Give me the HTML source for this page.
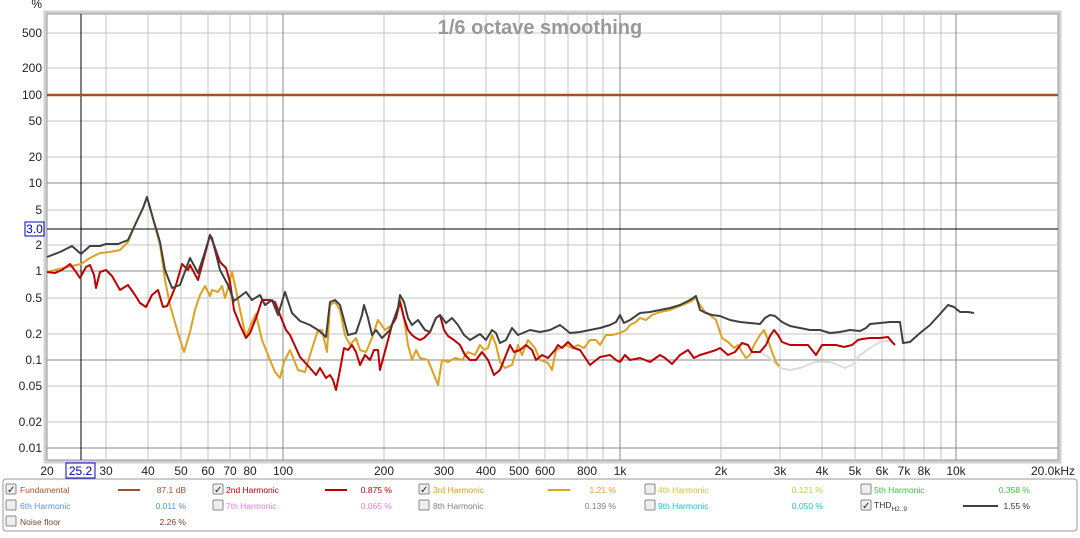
<!DOCTYPE html>
<html><head><style>
body{margin:0;background:#fff;width:1080px;height:533px;overflow:hidden;font-family:"Liberation Sans",sans-serif}
</style></head><body>
<svg width="1080" height="533" xmlns="http://www.w3.org/2000/svg" font-family="Liberation Sans, sans-serif">
<rect x="0" y="0" width="1080" height="533" fill="#fff"/>
<rect x="45" y="12" width="1015" height="450" fill="none" stroke="#d0d0d0" stroke-width="3"/>
<rect x="47" y="14" width="1011" height="446" fill="#fff" stroke="#999" stroke-width="1"/>
<g stroke="#c4c4c4" stroke-width="1">
<line x1="47" x2="1058" y1="33" y2="33"/><line x1="47" x2="1058" y1="68" y2="68"/><line x1="47" x2="1058" y1="121" y2="121"/><line x1="47" x2="1058" y1="157" y2="157"/><line x1="47" x2="1058" y1="210" y2="210"/><line x1="47" x2="1058" y1="245" y2="245"/><line x1="47" x2="1058" y1="298" y2="298"/><line x1="47" x2="1058" y1="334" y2="334"/><line x1="47" x2="1058" y1="386" y2="386"/><line x1="47" x2="1058" y1="422" y2="422"/>
<line y1="14" y2="460" x1="106" x2="106"/>
<line y1="14" y2="460" x1="148" x2="148"/><line y1="14" y2="460" x1="181" x2="181"/><line y1="14" y2="460" x1="208" x2="208"/><line y1="14" y2="460" x1="230" x2="230"/><line y1="14" y2="460" x1="250" x2="250"/><line y1="14" y2="460" x1="267" x2="267"/>
<line y1="14" y2="460" x1="384" x2="384"/><line y1="14" y2="460" x1="444" x2="444"/><line y1="14" y2="460" x1="486" x2="486"/><line y1="14" y2="460" x1="519" x2="519"/><line y1="14" y2="460" x1="545" x2="545"/><line y1="14" y2="460" x1="568" x2="568"/><line y1="14" y2="460" x1="587" x2="587"/><line y1="14" y2="460" x1="603" x2="603"/>
<line y1="14" y2="460" x1="721" x2="721"/><line y1="14" y2="460" x1="780" x2="780"/><line y1="14" y2="460" x1="822" x2="822"/><line y1="14" y2="460" x1="855" x2="855"/><line y1="14" y2="460" x1="882" x2="882"/><line y1="14" y2="460" x1="904" x2="904"/><line y1="14" y2="460" x1="924" x2="924"/><line y1="14" y2="460" x1="941" x2="941"/>
</g>
<g stroke="#888" stroke-width="1">
<line x1="47" x2="1058" y1="95" y2="95"/><line x1="47" x2="1058" y1="183" y2="183"/><line x1="47" x2="1058" y1="271" y2="271"/><line x1="47" x2="1058" y1="360" y2="360"/><line x1="47" x2="1058" y1="448" y2="448"/>
<line y1="14" y2="460" x1="283" x2="283"/><line y1="14" y2="460" x1="620" x2="620"/><line y1="14" y2="460" x1="956" x2="956"/>
</g>
<line x1="81" x2="81" y1="14" y2="460" stroke="#000"/>
<line x1="47" x2="1058" y1="229" y2="229" stroke="#000"/>
<text x="540" y="34" font-size="20" font-weight="bold" fill="#999" text-anchor="middle">1/6 octave smoothing</text>
<line x1="47" x2="1058" y1="95" y2="95" stroke="#a0522d" stroke-width="2.5"/>
<g fill="none" stroke-width="2" stroke-linejoin="round">
<polyline stroke="#dcdcdc" points="760,352 770,358 780,368 790,370 800,368 815,362 830,362 845,368 852,365 860,355 870,348 880,342 893,340"/>
<polyline stroke="#e0a020" points="47,272 55,270 72,266 81,264 90,258 100,253 110,252 120,250 128,242 135,225 143,208 147,197 152,215 160,245 165,280 170,305 178,333 184,352 190,332 195,310 200,295 205,286 210,296 212,290 218,292 222,286 225,298 228,288 232,272 236,290 240,310 246,337 252,322 256,314 262,340 268,355 275,372 280,378 284,362 290,350 298,370 305,372 310,355 318,330 322,330 327,352 330,305 335,302 340,310 345,335 350,345 356,338 360,350 366,352 372,338 378,320 385,330 392,325 398,308 400,300 404,318 408,345 412,360 416,350 420,358 428,360 434,375 438,385 442,360 448,362 455,358 462,360 468,352 475,355 480,345 484,350 488,348 492,335 496,345 500,362 505,368 512,365 518,345 522,355 528,340 535,348 540,360 548,363 552,370 556,350 560,348 566,345 572,348 578,345 584,348 590,340 596,340 600,345 606,335 612,335 620,333 626,330 630,325 636,322 640,318 646,320 652,315 660,312 670,310 680,306 690,302 696,298 700,305 705,312 710,315 716,320 722,338 728,342 734,348 738,345 742,352 746,358 750,355 754,345 760,335 764,330 768,340 772,352 776,362 779,366"/>
<polyline stroke="#c00000" points="47,272 55,273 62,270 70,264 76,272 80,278 86,267 90,265 94,275 96,288 100,272 106,270 112,276 120,290 128,285 135,295 140,303 146,307 152,295 158,290 163,307 167,306 170,300 176,285 182,264 188,270 190,265 198,280 204,258 210,235 214,245 220,262 226,268 230,282 234,310 240,325 246,338 250,333 256,318 262,300 270,300 275,302 280,315 286,330 290,335 300,357 310,368 316,375 320,368 326,378 330,375 333,380 336,390 340,370 344,348 348,350 352,345 356,352 360,365 365,355 370,360 374,350 378,350 380,370 384,355 388,340 392,325 396,318 400,302 404,318 408,330 412,335 416,338 420,340 424,338 430,332 436,318 440,315 444,330 448,336 454,340 460,345 465,355 470,360 476,360 482,352 488,360 494,375 500,370 506,355 510,345 514,352 520,350 526,345 532,350 536,360 542,355 548,358 555,350 558,345 562,348 568,342 574,348 580,350 590,365 600,357 610,355 616,360 620,362 625,355 630,360 640,358 650,362 660,355 665,358 672,364 680,355 688,350 694,358 700,355 710,352 716,350 720,348 728,355 735,352 742,343 748,345 752,352 760,352 766,345 770,336 774,330 778,335 782,342 790,345 800,345 808,345 812,350 816,355 822,345 828,345 836,345 844,347 852,345 858,340 862,339 870,338 880,338 888,337 892,342 895,345"/>
<polyline stroke="#404040" points="47,257 60,252 72,246 81,254 90,246 100,246 106,244 118,244 128,240 135,225 143,208 147,197 152,215 160,242 165,270 172,288 180,285 190,258 198,273 204,255 210,235 212,238 220,270 228,285 234,301 246,292 252,300 260,295 265,305 272,300 278,315 285,292 292,313 300,321 310,325 318,330 326,337 330,302 335,300 340,305 348,335 356,333 362,315 364,305 368,318 372,335 376,330 382,338 390,330 398,308 400,295 404,302 408,318 412,325 418,320 425,330 430,332 436,318 440,315 446,323 452,318 458,325 464,335 470,340 480,334 486,340 492,330 496,333 500,343 506,340 512,328 518,335 530,330 540,332 550,330 560,325 570,333 580,332 590,330 600,328 610,325 616,322 620,315 624,323 630,320 640,313 650,312 660,310 670,308 680,305 690,300 696,296 700,310 706,313 712,315 720,316 730,320 740,322 750,323 760,324 765,318 770,315 775,316 782,322 790,326 800,328 810,330 820,330 830,333 840,332 850,330 860,331 866,328 870,324 880,323 890,322 900,322 903,343 910,342 920,333 930,325 940,314 948,305 954,307 960,312 968,312 974,313"/>
</g>
<g font-size="12" fill="#222" text-anchor="end">
<text x="42" y="8">%</text>
<text x="42" y="37">500</text><text x="42" y="72">200</text><text x="42" y="99">100</text><text x="42" y="125">50</text><text x="42" y="161">20</text><text x="42" y="187">10</text><text x="42" y="214">5</text><text x="42" y="249">2</text><text x="42" y="275">1</text><text x="42" y="302">0.5</text><text x="42" y="338">0.2</text><text x="42" y="364">0.1</text><text x="42" y="390">0.05</text><text x="42" y="426">0.02</text><text x="42" y="452">0.01</text>
</g>
<rect x="25" y="222" width="19" height="14" fill="#fff" stroke="#0000c0"/>
<text x="34.5" y="233" font-size="12" fill="#0000c0" text-anchor="middle">3.0</text>
<g font-size="12" fill="#222" text-anchor="middle">
<text x="47" y="475">20</text><text x="106" y="475">30</text><text x="148" y="475">40</text><text x="181" y="475">50</text><text x="208" y="475">60</text><text x="230" y="475">70</text><text x="250" y="475">80</text><text x="283" y="475">100</text>
<text x="384" y="475">200</text><text x="444" y="475">300</text><text x="486" y="475">400</text><text x="519" y="475">500</text><text x="545" y="475">600</text><text x="587" y="475">800</text><text x="620" y="475">1k</text>
<text x="721" y="475">2k</text><text x="780" y="475">3k</text><text x="822" y="475">4k</text><text x="855" y="475">5k</text><text x="882" y="475">6k</text><text x="904" y="475">7k</text><text x="924" y="475">8k</text><text x="956" y="475">10k</text>
<text x="1075" y="475" text-anchor="end">20.0kHz</text>
</g>
<rect x="66" y="463" width="29" height="15" fill="#fff" stroke="#0000c0"/>
<text x="80.5" y="475" font-size="12" fill="#0000c0" text-anchor="middle">25.2</text>
<rect x="3" y="479" width="1074" height="52" rx="3" fill="#fff" stroke="#999"/>
<g font-size="8.5">
<g fill="#eee" stroke="#888"><rect x="6" y="484" width="10" height="10" rx="1"/><rect x="6" y="500" width="10" height="10" rx="1"/><rect x="6" y="516" width="10" height="10" rx="1"/>
<rect x="213" y="484" width="10" height="10" rx="1"/><rect x="213" y="500" width="10" height="10" rx="1"/>
<rect x="419" y="484" width="10" height="10" rx="1"/><rect x="419" y="500" width="10" height="10" rx="1"/>
<rect x="645" y="484" width="10" height="10" rx="1"/><rect x="645" y="500" width="10" height="10" rx="1"/>
<rect x="861" y="484" width="10" height="10" rx="1"/><rect x="861" y="500" width="10" height="10" rx="1"/></g>
<g font-size="10" fill="#222"><text x="7" y="493">✓</text><text x="214" y="493">✓</text><text x="420" y="493">✓</text><text x="862" y="509">✓</text></g>
<text x="20" y="493" fill="#a0522d">Fundamental</text>
<line x1="118" x2="140" y1="490" y2="490" stroke="#a0522d" stroke-width="2"/>
<text x="186" y="493" fill="#a0522d" text-anchor="end">87.1 dB</text>
<text x="226" y="493" fill="#c00000">2nd Harmonic</text>
<line x1="325" x2="347" y1="490" y2="490" stroke="#c00000" stroke-width="2"/>
<text x="392" y="493" fill="#c00000" text-anchor="end">0.875 %</text>
<text x="433" y="493" fill="#e0a020">3rd Harmonic</text>
<line x1="548" x2="570" y1="490" y2="490" stroke="#e0a020" stroke-width="2"/>
<text x="616" y="493" fill="#e0a020" text-anchor="end">1.21 %</text>
<text x="658" y="493" fill="#c8c840">4th Harmonic</text>
<text x="823" y="493" fill="#c8c840" text-anchor="end">0.121 %</text>
<text x="874" y="493" fill="#40c040">5th Harmonic</text>
<text x="1030" y="493" fill="#40c040" text-anchor="end">0.358 %</text>
<text x="20" y="509" fill="#6090e0">6th Harmonic</text>
<text x="186" y="509" fill="#6090e0" text-anchor="end">0.011 %</text>
<text x="226" y="509" fill="#e080e0">7th Harmonic</text>
<text x="392" y="509" fill="#e080e0" text-anchor="end">0.065 %</text>
<text x="433" y="509" fill="#808080">8th Harmonic</text>
<text x="616" y="509" fill="#808080" text-anchor="end">0.139 %</text>
<text x="658" y="509" fill="#20c0d0">9th Harmonic</text>
<text x="823" y="509" fill="#20c0d0" text-anchor="end">0.050 %</text>
<text x="874" y="508" fill="#333">THD<tspan font-size="6.5" dy="3">H2..9</tspan></text>
<line x1="963" x2="998" y1="506" y2="506" stroke="#404040" stroke-width="2"/>
<text x="1030" y="509" fill="#333" text-anchor="end">1.55 %</text>
<text x="20" y="525" fill="#804020">Noise floor</text>
<text x="186" y="525" fill="#804020" text-anchor="end">2.26 %</text>
</g>
</svg>
</body></html>
